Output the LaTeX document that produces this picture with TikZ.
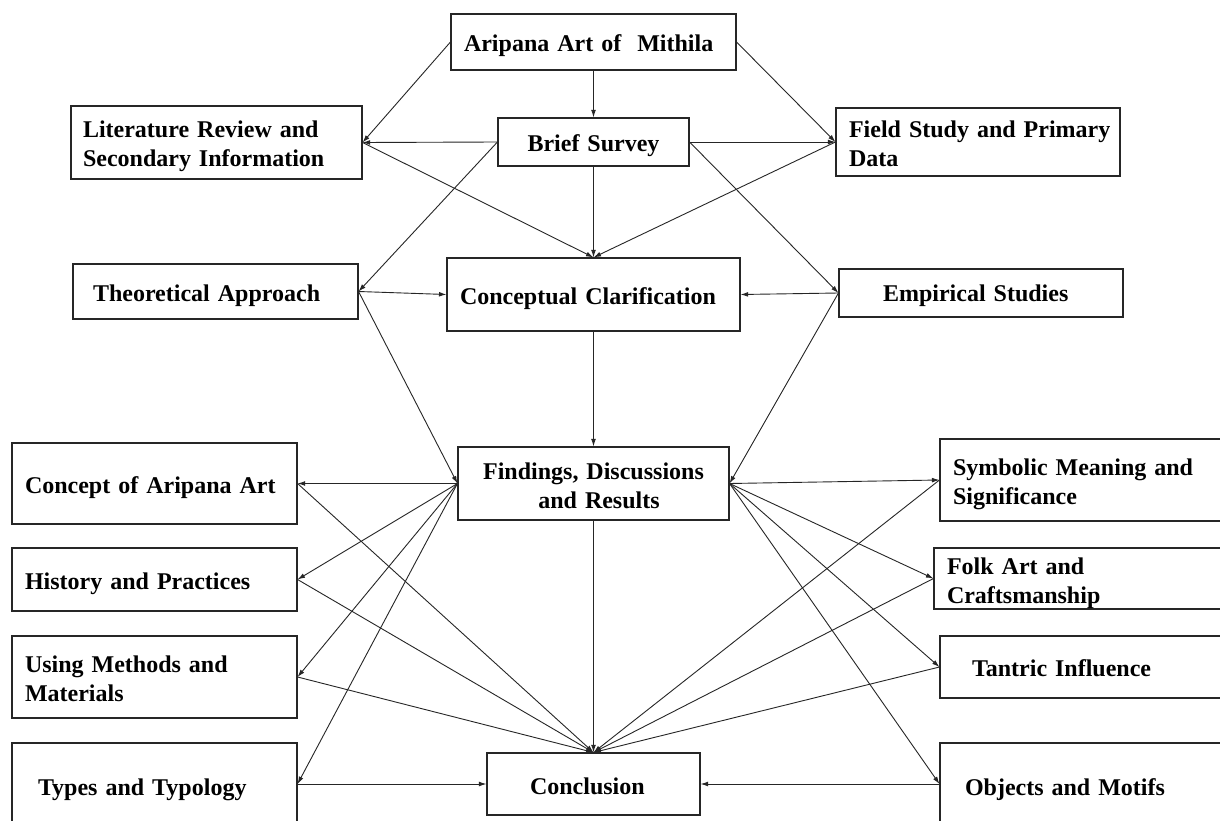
\documentclass[tikz,border=0pt]{standalone}
\usepackage{fontspec}
\setmainfont[WordSpace=0.85]{Liberation Serif}
\usetikzlibrary{arrows.meta}
\newcommand\tline[2][4pt]{\raisebox{-#1}[\height][\depth]{#2}}
\begin{document}
\begin{tikzpicture}[x=1pt,y=-1pt,
  boxnode/.style={draw=black!85, line width=1.1pt, rectangle, inner ysep=0pt,
     font=\fontsize{24}{29}\selectfont\bfseries, text=black},
  conn/.style={draw=black!85, line width=0.9pt, -{Latex[length=7.5pt,width=4.8pt]}}]
\useasboundingbox (0,0) rectangle (1220,821);
\clip (0,0) rectangle (1220,821);
\fill[white] (0,0) rectangle (1220,821);

% boxes
\node[boxnode, minimum width=285pt, minimum height=56pt, inner xsep=13pt, text width=259pt, align=left] (aripana) at (593.5,42) {\tline{Aripana Art of\ \ Mithila}};
\node[boxnode, minimum width=191pt, minimum height=48pt, inner xsep=10pt, text width=171pt, align=center] (brief) at (593.5,142) {\tline{Brief Survey}};
\node[boxnode, minimum width=291pt, minimum height=73pt, inner xsep=12pt, text width=267pt, align=left] (lit) at (216.5,142.5) {\tline{Literature Review and}\\\tline{Secondary Information}};
\node[boxnode, minimum width=284pt, minimum height=68pt, inner xsep=13pt, text width=258pt, align=left] (field) at (978,142) {\tline[2pt]{Field Study and Primary}\\\tline[2pt]{Data}};
\node[boxnode, minimum width=285pt, minimum height=55pt, inner xsep=20pt, text width=245pt, align=left] (theo) at (215.5,291.5) {\tline{Theoretical Approach}};
\node[boxnode, minimum width=293pt, minimum height=73pt, inner xsep=13pt, text width=267pt, align=left] (concep) at (593.5,294.5) {\tline{Conceptual Clarification}};
\node[boxnode, minimum width=284pt, minimum height=48pt, inner xsep=44pt, text width=196pt, align=left] (emp) at (981,293) {\tline[3pt]{Empirical Studies}};
\node[boxnode, minimum width=271pt, minimum height=73pt, inner xsep=10pt, text width=251pt, align=center] (find) at (593.5,483.5) {\tline[2pt]{Findings, Discussions}\\\tline[2pt]{\hspace*{11pt}and Results}};
\node[boxnode, minimum width=285pt, minimum height=81pt, inner xsep=13pt, text width=259pt, align=left] (concept) at (154.5,483.5) {\tline{Concept of Aripana Art}};
\node[boxnode, minimum width=285pt, minimum height=63pt, inner xsep=13pt, text width=259pt, align=left] (hist) at (154.5,579.5) {\tline{History and Practices}};
\node[boxnode, minimum width=285pt, minimum height=82pt, inner xsep=13pt, text width=259pt, align=left] (using) at (154.5,677) {\tline[2pt]{Using Methods and}\\\tline[2pt]{Materials}};
\node[boxnode, minimum width=285pt, minimum height=82pt, inner xsep=26pt, text width=233pt, align=left] (types) at (154.5,784) {\tline[6pt]{Types and Typology}};
\node[boxnode, minimum width=213pt, minimum height=62pt, inner xsep=43pt, text width=127pt, align=left] (concl) at (593.5,784) {\tline[2pt]{Conclusion}};
\node[boxnode, minimum width=290pt, minimum height=82pt, inner xsep=13pt, text width=264pt, align=left] (symb) at (1085,480) {\tline{Symbolic Meaning and}\\\tline{Significance}};
\node[boxnode, minimum width=296pt, minimum height=61pt, inner xsep=13pt, text width=270pt, align=left] (folk) at (1082,578.5) {\tline[5pt]{Folk Art and}\\\tline[5pt]{Craftsmanship}};
\node[boxnode, minimum width=290pt, minimum height=62pt, inner xsep=32pt, text width=226pt, align=left] (tant) at (1085,667) {\tline[1pt]{Tantric Influence}};
\node[boxnode, minimum width=290pt, minimum height=82pt, inner xsep=25pt, text width=240pt, align=left] (obj) at (1085,784) {\tline[6pt]{Objects and Motifs}};

% top level
\draw[conn] (aripana.south) -- (brief.north);
\draw[conn] (aripana.west) -- (lit.east);
\draw[conn] (aripana.east) -- (field.west);
\draw[conn] (brief.west) -- (lit.east);
\draw[conn] (brief.east) -- (field.west);
\draw[conn] (lit.east) -- (concep.north);
\draw[conn] (field.west) -- (concep.north);
\draw[conn] (brief.south) -- (concep.north);
\draw[conn] (brief.west) -- (theo.east);
\draw[conn] (brief.east) -- (emp.west);
\draw[conn] (theo.east) -- (concep.west);
\draw[conn] (emp.west) -- (concep.east);
\draw[conn] (concep.south) -- (find.north);
\draw[conn] (theo.east) -- (find.west);
\draw[conn] (emp.west) -- (find.east);

% findings to themes
\draw[conn] (find.west) -- (concept.east);
\draw[conn] (find.west) -- (hist.east);
\draw[conn] (find.west) -- (using.east);
\draw[conn] (find.west) -- (types.east);
\draw[conn] (find.east) -- (symb.west);
\draw[conn] (find.east) -- (folk.west);
\draw[conn] (find.east) -- (tant.west);
\draw[conn] (find.east) -- (obj.west);

% themes to conclusion
\draw[conn] (find.south) -- (concl.north);
\draw[conn] (concept.east) -- (concl.north);
\draw[conn] (hist.east) -- (concl.north);
\draw[conn] (using.east) -- (concl.north);
\draw[conn] (types.east) -- (concl.west);
\draw[conn] (symb.west) -- (concl.north);
\draw[conn] (folk.west) -- (concl.north);
\draw[conn] (tant.west) -- (concl.north);
\draw[conn] (obj.west) -- (concl.east);
\end{tikzpicture}
\end{document}
